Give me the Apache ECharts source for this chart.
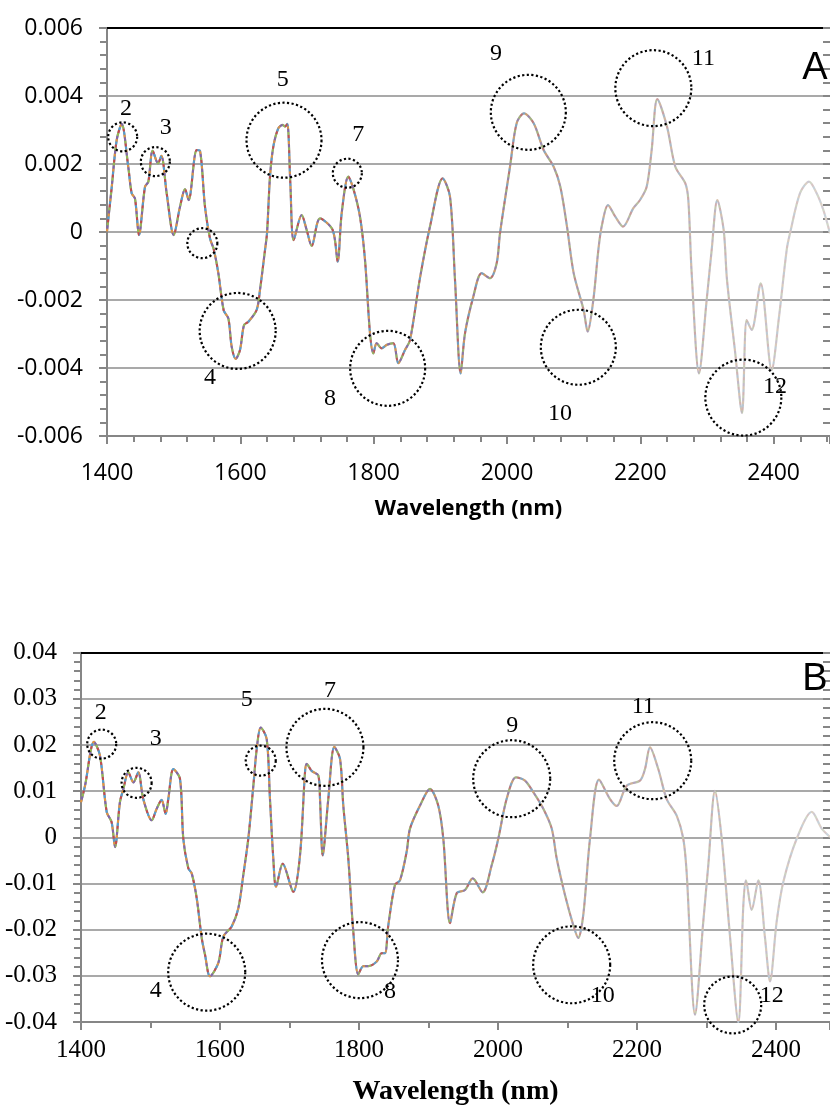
<!DOCTYPE html>
<html>
<head>
<meta charset="utf-8">
<script src="https://cdn.jsdelivr.net/npm/echarts@6/dist/echarts.min.js"></script>
<style>
  html, body { margin: 0; padding: 0; background: #fff; }
  #chart { width: 830px; height: 1107px; }
</style>
</head>
<body>
<div id="chart"></div>
<script>
// Panel A spectrum (wavelength in nm, value)
const wavelengthA = [1400, 1407, 1414.5, 1422, 1432, 1437, 1442, 1448, 1457, 1462, 1468.5, 1476.5, 1481.5, 1489.5, 1500,
  1509.5, 1517, 1522.5, 1534.5, 1539.5, 1547, 1554.5, 1560, 1567, 1575, 1582, 1587, 1593, 1599.5, 1605.5, 1612, 1624.5,
  1629.5, 1637, 1640, 1644.5, 1649.5, 1657, 1663.5, 1667, 1670.5, 1675, 1680, 1692, 1699.5, 1707, 1719.5, 1738.5, 1746,
  1752, 1762, 1770, 1779.5, 1787, 1794.5, 1799.5, 1804.5, 1812, 1819.5, 1829.5, 1837, 1847, 1854.5, 1869.5, 1884.5,
  1903.5, 1914.5, 1922, 1930.5, 1937, 1949.5, 1962, 1974.5, 1984.5, 1989.5, 2004.5, 2014.5, 2025.5, 2040, 2055, 2070,
  2080, 2090, 2100, 2115, 2121, 2129.5, 2137, 2142, 2151.5, 2162.5, 2174, 2189.5, 2199.5, 2209.5, 2217, 2225.5, 2240,
  2252.5, 2267.5, 2272, 2277, 2288, 2299.5, 2307, 2315.5, 2325, 2330, 2342, 2352.5, 2359.5, 2367, 2380.5, 2397, 2408,
  2419.5, 2424.5, 2439.5, 2453, 2464.5, 2474.5, 2484.5];
const valueA = [0.00002, 0.0013, 0.0027, 0.00318, 0.0019, 0.00114, 0.00098, -0.00009, 0.00133, 0.00148, 0.00239, 0.00202,
  0.00224, 0.00114, -0.00009, 0.00074, 0.00126, 0.00094, 0.00241, 0.00239, 0.00074, -0.00019, -0.0005, -0.00121, -0.0023,
  -0.00254, -0.00337, -0.00373, -0.00347, -0.00274, -0.00264, -0.00229, -0.0017, -0.00053, -0.00004, 0.00163, 0.00251,
  0.00305, 0.00315, 0.0031, 0.00318, 0.00143, -0.00024, 0.0005, 0.00006, -0.00041, 0.0004, 0.00006, -0.00087, 0.00055,
  0.00163, 0.00124, 0.00045, -0.00082, -0.00298, -0.00357, -0.00327, -0.00342, -0.00332, -0.00327, -0.00386, -0.00347,
  -0.00318, -0.00135, 0.00016, 0.00158, 0.00104, -0.00141, -0.00416, -0.00298, -0.0019, -0.00121, -0.00136, -0.00092,
  -0.00004, 0.00192, 0.0032, 0.00349, 0.0032, 0.00241, 0.00192, 0.00133, 0.00016, -0.00121, -0.0023, -0.00293, -0.002,
  -0.00053, 0.00016, 0.00079, 0.00045, 0.00016, 0.0007, 0.00094, 0.00133, 0.00241, 0.00391, 0.0031, 0.00192, 0.00143,
  0.00094, -0.00121, -0.00416, -0.002, -0.00053, 0.00094, 0.00006, -0.00141, -0.0035, -0.00533, -0.00259, -0.00288,
  -0.00151, -0.00406, -0.0025, -0.00053, -0.00004, 0.00114, 0.00148, 0.00114, 0.00065, -0.00004];

// Panel B spectrum
const wavelengthB = [1400, 1405.8, 1418.7, 1427.3, 1437, 1444, 1449, 1456, 1461, 1468, 1475.4, 1482.4, 1489.6, 1501.7,
  1508.9, 1516, 1521.8, 1525.6, 1532.9, 1542.4, 1547.2, 1554.4, 1559.3, 1566.5, 1573.7, 1578.4, 1585.6, 1597.6, 1604.8,
  1616.8, 1626.3, 1633.5, 1640.7, 1648, 1652.8, 1658.6, 1667.2, 1671.9, 1676.7, 1680.6, 1690.2, 1705.5, 1715.1, 1722.3,
  1724.7, 1731.9, 1741.5, 1743.9, 1747.8, 1755.8, 1764.5, 1772.7, 1777.4, 1784.6, 1791.8, 1799, 1806.2, 1813.4, 1825.5,
  1832.7, 1837.4, 1842.2, 1851.8, 1859, 1868.6, 1873.4, 1887.8, 1902.2, 1914, 1921.3, 1931, 1940.6, 1952.5, 1963.6, 1978,
  1991, 2000.4, 2012.4, 2025.9, 2038.8, 2050.8, 2065.2, 2077.3, 2084.5, 2096.4, 2108.3, 2115.5, 2122.7, 2132.4, 2145.3,
  2161.2, 2170.8, 2185.2, 2204.3, 2211.5, 2218.7, 2230.6, 2242.7, 2257.1, 2266.6, 2271.4, 2283.5, 2295.4, 2302.6, 2312.2,
  2321.9, 2333, 2345.8, 2353, 2356.8, 2365, 2374.6, 2384.2, 2391.4, 2401, 2410.6, 2429.8, 2451.4, 2465.8, 2477.7];
const valueB = [0.0076, 0.0112, 0.0207, 0.0177, 0.0055, 0.0033, -0.0021, 0.0076, 0.0105, 0.0141, 0.0119, 0.0141, 0.0083,
  0.0037, 0.0062, 0.0081, 0.0051, 0.0083, 0.0148, 0.0127, -0.0003, -0.0067, -0.0078, -0.0132, -0.0218, -0.0254, -0.0301,
  -0.0272, -0.0215, -0.0193, -0.0154, -0.0082, -0.0003, 0.0112, 0.0191, 0.0238, 0.0213, 0.0083, -0.0046, -0.0107,
  -0.0057, -0.0118, -0.0039, 0.0141, 0.0159, 0.0144, 0.0134, 0.0083, -0.0039, 0.0083, 0.0196, 0.017, 0.0069, -0.0046,
  -0.0204, -0.0297, -0.0279, -0.0279, -0.0269, -0.0251, -0.0251, -0.019, -0.0103, -0.0093, -0.0031, 0.0019, 0.0069,
  0.0105, 0.0069, -0.0003, -0.0186, -0.0121, -0.0114, -0.0089, -0.0119, -0.006, -0.0003, 0.0083, 0.013, 0.0123, 0.0098,
  0.0062, 0.0019, -0.0046, -0.0125, -0.019, -0.0218, -0.0168, -0.0003, 0.0125, 0.0083, 0.0068, 0.0112, 0.0123, 0.0148,
  0.0195, 0.0148, 0.0083, 0.0047, -0.0003, -0.0075, -0.0384, -0.0182, -0.006, 0.0101, -0.0003, -0.02, -0.0401, -0.0147,
  -0.0093, -0.0157, -0.0093, -0.0218, -0.0312, -0.0182, -0.0096, -0.0003, 0.0055, 0.0019, 0.0001];

// Band annotations: circle centres [nm, value], circle diameters, numbered labels
const circlesA = [[1423.5, 0.0028], [1472.5, 0.00207], [1543, -0.00033], [1665.5, 0.0027], [1760.5, 0.00173],
  [1596, -0.00291], [1821, -0.00401], [2032, 0.00352], [2219.5, 0.00423], [2107, -0.00339], [2354.5, -0.00487]];
const circleSizeA = [29, 29, 30, 75, 29, 76, 75, 75, 76, 75, 76];
const labelsA = [['2', 1428.5, 0.00364], ['3', 1488, 0.00308], ['4', 1554.5, -0.00429], ['5', 1663.5, 0.00447],
  ['7', 1777, 0.00285], ['8', 1734.5, -0.00489], ['9', 1983.5, 0.00524], ['10', 2079.5, -0.00533],
  ['11', 2294.5, 0.00511], ['12', 2402, -0.00455]];
const panelA = ['A', 2462, 0.00481];

const circlesB = [[1429.8, 0.0202], [1480, 0.0118], [1658.6, 0.0166], [1751, 0.0195], [2019.7, 0.0127],
  [2222.6, 0.0166], [1580.9, -0.0292], [1801.4, -0.0266], [2106, -0.0276], [2337.7, -0.0363]];
const circleSizeB = [29, 30, 30, 77, 77, 77, 77, 76, 77, 57];
const labelsB = [['2', 1428.3, 0.027], ['3', 1507.5, 0.0213], ['4', 1507.5, -0.0333], ['5', 1638.4, 0.0299],
  ['7', 1758.3, 0.0317], ['8', 1844.6, -0.0335], ['9', 2020.6, 0.0241], ['10', 2150.6, -0.0344],
  ['11', 2209, 0.0284], ['12', 2393.8, -0.0344]];
const panelB = ['B', 2456, 0.0342];

const GRAY = '#868686';
const sansA = 'Open Sans';
const serif = 'Liberation Serif';

function yLabel(digits) {
  return v => (Math.abs(v) < 1e-9 ? '0' : v.toFixed(digits));
}

function xAxes(grid, max, minorSplit, font, size, nameSize, nameGap, labelMargin) {
  return [{
    gridIndex: grid, type: 'value', position: 'bottom', min: 1400, max: max, interval: 200,
    axisLine: { onZero: false, lineStyle: { color: GRAY, width: 2 } },
    axisTick: { length: 8, lineStyle: { color: GRAY, width: 2 } },
    minorTick: { show: true, splitNumber: minorSplit, length: 6, lineStyle: { color: GRAY, width: 2 } },
    splitLine: { show: false },
    axisLabel: {
      showMaxLabel: false, formatter: v => String(v),
      fontFamily: font, fontSize: size, color: '#000', margin: labelMargin
    },
    name: 'Wavelength (nm)', nameLocation: 'middle', nameGap: nameGap,
    nameTextStyle: { fontFamily: font, fontSize: nameSize, fontWeight: 'bold', color: '#000' }
  }, {
    gridIndex: grid, type: 'value', position: 'top', min: 1400, max: max,
    axisLine: { onZero: false, lineStyle: { color: '#000', width: 2 } },
    axisTick: { show: false }, axisLabel: { show: false }, splitLine: { show: false }
  }];
}

function yAxes(grid, lim, step, digits, font, size, margin) {
  const base = {
    gridIndex: grid, type: 'value', min: -lim, max: lim, interval: step,
    axisLine: { show: true, lineStyle: { color: GRAY, width: 2 } },
    axisTick: { length: 8, lineStyle: { color: GRAY, width: 2 } },
    minorTick: { show: true, splitNumber: 5, length: 7, lineStyle: { color: GRAY, width: 2 } }
  };
  return [Object.assign({}, base, {
    splitLine: { lineStyle: { color: '#8c8c8c', width: 1.5 } },
    axisLabel: { formatter: yLabel(digits), fontFamily: font, fontSize: size, color: '#000', margin: margin }
  }), Object.assign({}, base, {
    axisLine: { show: false },
    axisTick: { inside: true, length: 7, lineStyle: { color: GRAY, width: 2 } },
    minorTick: { show: true, splitNumber: 5, length: 7, lineStyle: { color: GRAY, width: 2 } },
    splitLine: { show: false }, axisLabel: { show: false }
  })];
}

function grad(stops) {
  return new echarts.graphic.LinearGradient(0, 0, 1, 0, stops.map(s => ({ offset: s[0], color: s[1] })));
}

// the spectra are many overlaid traces, so draw a gray line with coloured dashes on top
function spectrum(xi, yi, xs, ys) {
  const data = xs.map((x, i) => [x, ys[i]]);
  const out = [{
    type: 'line', xAxisIndex: xi, yAxisIndex: yi, data: data, smooth: 0.3, symbol: 'none', z: 3,
    lineStyle: { width: 2.2, color: grad([[0, '#857f86'], [0.45, '#9a9295'], [0.7, '#c4bcbc'], [1, '#dcdcdc']]) }
  }];
  const dashColors = [[232, 150, 60], [80, 160, 215], [200, 70, 70], [150, 190, 80], [130, 100, 170]];
  dashColors.forEach((c, k) => {
    const rgb = c.join(',');
    out.push({
      type: 'line', xAxisIndex: xi, yAxisIndex: yi, data: data, smooth: 0.3, symbol: 'none', z: 4,
      lineStyle: {
        width: 2, type: [3, 12], dashOffset: k * 3,
        color: grad([[0, 'rgba(' + rgb + ',0.95)'], [0.4, 'rgba(' + rgb + ',0.75)'], [0.7, 'rgba(' + rgb + ',0.3)'], [1, 'rgba(' + rgb + ',0.12)']])
      }
    });
  });
  return out;
}

function circles(xi, yi, centres, sizes) {
  return {
    type: 'scatter', xAxisIndex: xi, yAxisIndex: yi, z: 6, clip: false, silent: true,
    data: centres.map((c, i) => ({ value: c, symbolSize: sizes[i] })),
    symbol: 'circle',
    itemStyle: { opacity: 1, color: 'rgba(0,0,0,0)', borderColor: '#000', borderWidth: 2.2, borderType: [2.2, 2.4] }
  };
}

function texts(xi, yi, list, font, size) {
  return {
    type: 'scatter', xAxisIndex: xi, yAxisIndex: yi, z: 7, clip: false, silent: true, symbolSize: 1,
    data: list.map(l => ({ name: l[0], value: [l[1], l[2]] })),
    itemStyle: { opacity: 1, color: 'rgba(0,0,0,0)' },
    label: {
      show: true, position: 'inside', formatter: p => p.name, fontFamily: font, fontSize: size,
      color: '#000', textBorderWidth: 0, opacity: 1
    }
  };
}

const chart = echarts.init(document.getElementById('chart'));

chart.setOption({
  animation: false,
  backgroundColor: '#fff',
  grid: [
    { left: 107, top: 28, right: 0, height: 408 },
    { left: 81, top: 652.7, right: 0, height: 371.3 }
  ],
  xAxis: [
    ...xAxes(0, 2484.5, 5, sansA, 23, 22, 62, 26),
    ...xAxes(1, 2477.7, 2, serif, 25, 28, 56, 16)
  ],
  yAxis: [
    ...yAxes(0, 0.006, 0.002, 3, sansA, 23, 24),
    ...yAxes(1, 0.04, 0.01, 2, serif, 25, 24)
  ],
  series: [
    ...spectrum(0, 0, wavelengthA, valueA),
    circles(0, 0, circlesA, circleSizeA),
    texts(0, 0, labelsA, serif, 24),
    texts(0, 0, [panelA], 'Liberation Sans', 38),
    ...spectrum(2, 2, wavelengthB, valueB),
    circles(2, 2, circlesB, circleSizeB),
    texts(2, 2, labelsB, serif, 24),
    texts(2, 2, [panelB], 'Liberation Sans', 38)
  ]
});

window.addEventListener('resize', function () {
  chart.resize();
});
</script>
</body>
</html>
